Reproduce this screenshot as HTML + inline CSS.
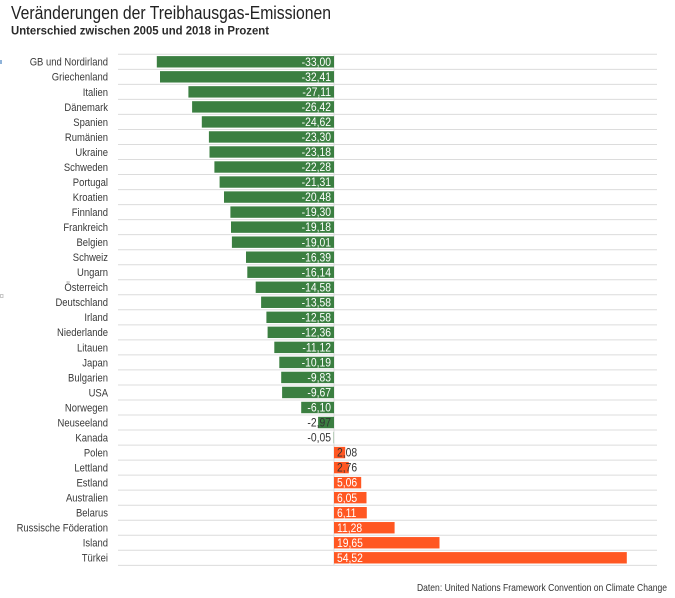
<!DOCTYPE html>
<html><head><meta charset="utf-8"><style>
html,body{margin:0;padding:0;background:#fff;}
svg{display:block;}
.t{font-family:"Liberation Sans",sans-serif;}
.l{font-family:"Liberation Sans",sans-serif;font-size:11px;fill:#3a3a3a;}
.v{font-family:"Liberation Sans",sans-serif;font-size:11.5px;fill:#fff;}
.d{fill:#333;}
.g{fill:#3b7f41;}
.o{fill:#ff5722;}
</style></head><body>
<svg width="675" height="598" viewBox="0 0 675 598" xmlns="http://www.w3.org/2000/svg">
<rect width="675" height="598" fill="#fff"/>
<text class="t" x="11" y="19" font-size="18" fill="#222" textLength="320" lengthAdjust="spacingAndGlyphs">Veränderungen der Treibhausgas-Emissionen</text>
<text class="t" x="11" y="34.5" font-size="12" font-weight="bold" fill="#2a2a2a" textLength="258" lengthAdjust="spacingAndGlyphs">Unterschied zwischen 2005 und 2018 in Prozent</text>
<rect x="0" y="60" width="2" height="4" fill="#8fb3d9"/>
<rect x="0.5" y="294.5" width="2.5" height="3" fill="none" stroke="#bbb" stroke-width="0.8"/>
<g stroke="#dcdcdc" stroke-width="1">
<line x1="118" x2="657" y1="54.3" y2="54.3"/><line x1="118" x2="657" y1="69.33" y2="69.33"/><line x1="118" x2="657" y1="84.36" y2="84.36"/><line x1="118" x2="657" y1="99.39" y2="99.39"/><line x1="118" x2="657" y1="114.42" y2="114.42"/><line x1="118" x2="657" y1="129.45" y2="129.45"/><line x1="118" x2="657" y1="144.48" y2="144.48"/><line x1="118" x2="657" y1="159.51" y2="159.51"/><line x1="118" x2="657" y1="174.54" y2="174.54"/><line x1="118" x2="657" y1="189.57" y2="189.57"/><line x1="118" x2="657" y1="204.6" y2="204.6"/><line x1="118" x2="657" y1="219.63" y2="219.63"/><line x1="118" x2="657" y1="234.66" y2="234.66"/><line x1="118" x2="657" y1="249.69" y2="249.69"/><line x1="118" x2="657" y1="264.72" y2="264.72"/><line x1="118" x2="657" y1="279.75" y2="279.75"/><line x1="118" x2="657" y1="294.78" y2="294.78"/><line x1="118" x2="657" y1="309.81" y2="309.81"/><line x1="118" x2="657" y1="324.84" y2="324.84"/><line x1="118" x2="657" y1="339.87" y2="339.87"/><line x1="118" x2="657" y1="354.9" y2="354.9"/><line x1="118" x2="657" y1="369.93" y2="369.93"/><line x1="118" x2="657" y1="384.96" y2="384.96"/><line x1="118" x2="657" y1="399.99" y2="399.99"/><line x1="118" x2="657" y1="415.02" y2="415.02"/><line x1="118" x2="657" y1="430.05" y2="430.05"/><line x1="118" x2="657" y1="445.08" y2="445.08"/><line x1="118" x2="657" y1="460.11" y2="460.11"/><line x1="118" x2="657" y1="475.14" y2="475.14"/><line x1="118" x2="657" y1="490.17" y2="490.17"/><line x1="118" x2="657" y1="505.2" y2="505.2"/><line x1="118" x2="657" y1="520.23" y2="520.23"/><line x1="118" x2="657" y1="535.26" y2="535.26"/><line x1="118" x2="657" y1="550.29" y2="550.29"/><line x1="118" x2="657" y1="565.32" y2="565.32"/>
<line x1="334" x2="334" y1="54.3" y2="565.32"/>
</g>
<!-- negative bars -->
<g class="g">
<rect x="156.8" y="56.1" width="177.2" height="11.4"/>
<rect x="160.0" y="71.13" width="174.0" height="11.4"/>
<rect x="188.4" y="86.16" width="145.6" height="11.4"/>
<rect x="192.1" y="101.19" width="141.9" height="11.4"/>
<rect x="201.8" y="116.22" width="132.2" height="11.4"/>
<rect x="208.9" y="131.25" width="125.1" height="11.4"/>
<rect x="209.5" y="146.28" width="124.5" height="11.4"/>
<rect x="214.4" y="161.31" width="119.6" height="11.4"/>
<rect x="219.6" y="176.34" width="114.4" height="11.4"/>
<rect x="224.0" y="191.37" width="110.0" height="11.4"/>
<rect x="230.4" y="206.4" width="103.6" height="11.4"/>
<rect x="231.0" y="221.43" width="103.0" height="11.4"/>
<rect x="231.9" y="236.46" width="102.1" height="11.4"/>
<rect x="246.0" y="251.49" width="88.0" height="11.4"/>
<rect x="247.3" y="266.52" width="86.7" height="11.4"/>
<rect x="255.7" y="281.55" width="78.3" height="11.4"/>
<rect x="261.1" y="296.58" width="72.9" height="11.4"/>
<rect x="266.4" y="311.61" width="67.6" height="11.4"/>
<rect x="267.6" y="326.64" width="66.4" height="11.4"/>
<rect x="274.3" y="341.67" width="59.7" height="11.4"/>
<rect x="279.3" y="356.7" width="54.7" height="11.4"/>
<rect x="281.2" y="371.73" width="52.8" height="11.4"/>
<rect x="282.1" y="386.76" width="51.9" height="11.4"/>
<rect x="301.2" y="401.79" width="32.8" height="11.4"/>
<rect x="318.1" y="416.82" width="15.9" height="11.4"/>
<rect x="333.7" y="431.85" width="0.3" height="11.4"/>
</g>
<g class="o">
<rect x="334" y="446.88" width="11.2" height="11.4"/>
<rect x="334" y="461.91" width="14.8" height="11.4"/>
<rect x="334" y="476.94" width="27.2" height="11.4"/>
<rect x="334" y="491.97" width="32.5" height="11.4"/>
<rect x="334" y="507.0" width="32.8" height="11.4"/>
<rect x="334" y="522.03" width="60.6" height="11.4"/>
<rect x="334" y="537.06" width="105.5" height="11.4"/>
<rect x="334" y="552.09" width="292.8" height="11.4"/>
</g>
<!-- country labels -->
<g class="l" text-anchor="end">
<text transform="translate(108,65.7) scale(0.86,1)">GB und Nordirland</text>
<text transform="translate(108,80.73) scale(0.86,1)">Griechenland</text>
<text transform="translate(108,95.76) scale(0.86,1)">Italien</text>
<text transform="translate(108,110.79) scale(0.86,1)">Dänemark</text>
<text transform="translate(108,125.82) scale(0.86,1)">Spanien</text>
<text transform="translate(108,140.85) scale(0.86,1)">Rumänien</text>
<text transform="translate(108,155.88) scale(0.86,1)">Ukraine</text>
<text transform="translate(108,170.91) scale(0.86,1)">Schweden</text>
<text transform="translate(108,185.94) scale(0.86,1)">Portugal</text>
<text transform="translate(108,200.97) scale(0.86,1)">Kroatien</text>
<text transform="translate(108,216.0) scale(0.86,1)">Finnland</text>
<text transform="translate(108,231.03) scale(0.86,1)">Frankreich</text>
<text transform="translate(108,246.06) scale(0.86,1)">Belgien</text>
<text transform="translate(108,261.09) scale(0.86,1)">Schweiz</text>
<text transform="translate(108,276.12) scale(0.86,1)">Ungarn</text>
<text transform="translate(108,291.15) scale(0.86,1)">Österreich</text>
<text transform="translate(108,306.18) scale(0.86,1)">Deutschland</text>
<text transform="translate(108,321.21) scale(0.86,1)">Irland</text>
<text transform="translate(108,336.24) scale(0.86,1)">Niederlande</text>
<text transform="translate(108,351.27) scale(0.86,1)">Litauen</text>
<text transform="translate(108,366.3) scale(0.86,1)">Japan</text>
<text transform="translate(108,381.33) scale(0.86,1)">Bulgarien</text>
<text transform="translate(108,396.36) scale(0.86,1)">USA</text>
<text transform="translate(108,411.39) scale(0.86,1)">Norwegen</text>
<text transform="translate(108,426.42) scale(0.86,1)">Neuseeland</text>
<text transform="translate(108,441.45) scale(0.86,1)">Kanada</text>
<text transform="translate(108,456.48) scale(0.86,1)">Polen</text>
<text transform="translate(108,471.51) scale(0.86,1)">Lettland</text>
<text transform="translate(108,486.54) scale(0.86,1)">Estland</text>
<text transform="translate(108,501.57) scale(0.86,1)">Australien</text>
<text transform="translate(108,516.6) scale(0.86,1)">Belarus</text>
<text transform="translate(108,531.63) scale(0.86,1)">Russische Föderation</text>
<text transform="translate(108,546.66) scale(0.86,1)">Island</text>
<text transform="translate(108,561.69) scale(0.86,1)">Türkei</text>
</g>
<!-- value labels negative -->
<g class="v" text-anchor="end">
<text transform="translate(331,65.9) scale(0.9,1)">-33,00</text>
<text transform="translate(331,80.93) scale(0.9,1)">-32,41</text>
<text transform="translate(331,95.96) scale(0.9,1)">-27,11</text>
<text transform="translate(331,110.99) scale(0.9,1)">-26,42</text>
<text transform="translate(331,126.02) scale(0.9,1)">-24,62</text>
<text transform="translate(331,141.05) scale(0.9,1)">-23,30</text>
<text transform="translate(331,156.08) scale(0.9,1)">-23,18</text>
<text transform="translate(331,171.11) scale(0.9,1)">-22,28</text>
<text transform="translate(331,186.14) scale(0.9,1)">-21,31</text>
<text transform="translate(331,201.17) scale(0.9,1)">-20,48</text>
<text transform="translate(331,216.2) scale(0.9,1)">-19,30</text>
<text transform="translate(331,231.23) scale(0.9,1)">-19,18</text>
<text transform="translate(331,246.26) scale(0.9,1)">-19,01</text>
<text transform="translate(331,261.29) scale(0.9,1)">-16,39</text>
<text transform="translate(331,276.32) scale(0.9,1)">-16,14</text>
<text transform="translate(331,291.35) scale(0.9,1)">-14,58</text>
<text transform="translate(331,306.38) scale(0.9,1)">-13,58</text>
<text transform="translate(331,321.41) scale(0.9,1)">-12,58</text>
<text transform="translate(331,336.44) scale(0.9,1)">-12,36</text>
<text transform="translate(331,351.47) scale(0.9,1)">-11,12</text>
<text transform="translate(331,366.5) scale(0.9,1)">-10,19</text>
<text transform="translate(331,381.53) scale(0.9,1)">-9,83</text>
<text transform="translate(331,396.56) scale(0.9,1)">-9,67</text>
<text transform="translate(331,411.59) scale(0.9,1)">-6,10</text>
<text class="d" transform="translate(331,426.62) scale(0.9,1)">-2,97</text>
<text class="d" transform="translate(331,441.65) scale(0.9,1)">-0,05</text>
</g>
<g class="v">
<text class="d" transform="translate(337,456.68) scale(0.9,1)">2,08</text>
<text class="d" transform="translate(337,471.71) scale(0.9,1)">2,76</text>
<text transform="translate(337,486.74) scale(0.9,1)">5,06</text>
<text transform="translate(337,501.77) scale(0.9,1)">6,05</text>
<text transform="translate(337,516.8) scale(0.9,1)">6,11</text>
<text transform="translate(337,531.83) scale(0.9,1)">11,28</text>
<text transform="translate(337,546.86) scale(0.9,1)">19,65</text>
<text transform="translate(337,561.89) scale(0.9,1)">54,52</text>
</g>
<text class="t" x="417" y="591" font-size="10.5" fill="#333" textLength="250" lengthAdjust="spacingAndGlyphs">Daten: United Nations Framework Convention on Climate Change</text>
</svg>
</body></html>
